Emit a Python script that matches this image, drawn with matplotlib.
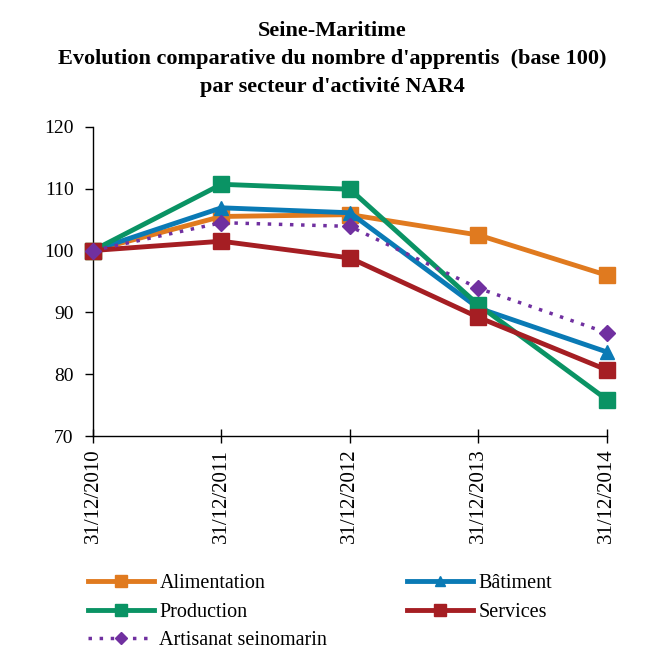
import matplotlib
matplotlib.use("Agg")
import matplotlib.pyplot as plt

dates = ["31/12/2010", "31/12/2011", "31/12/2012", "31/12/2013", "31/12/2014"]
alimentation = [100, 105.5, 105.8, 102.5, 96.0]
batiment = [100, 106.9, 106.1, 90.7, 83.6]
production = [100, 110.7, 109.9, 91.2, 75.9]
services = [100, 101.5, 98.8, 89.2, 80.7]
artisanat = [100, 104.5, 103.9, 93.9, 86.7]

plt.rcParams['font.family'] = ['Liberation Serif', 'DejaVu Serif']

fig = plt.figure(figsize=(6.64, 6.5), dpi=100)
ax = fig.add_axes([0.140, 0.329, 0.774, 0.476])

x = list(range(len(dates)))
h_al, = ax.plot(x, alimentation, color='#E07A1F', lw=3.5, marker='s', ms=11, label='Alimentation', zorder=3)
h_ba, = ax.plot(x, batiment, color='#0A7AB5', lw=3.5, marker='^', ms=10, label='Bâtiment', zorder=4)
h_pr, = ax.plot(x, production, color='#0A9364', lw=3.5, marker='s', ms=12, label='Production', zorder=5)
h_se, = ax.plot(x, services, color='#A51E23', lw=3.5, marker='s', ms=12, label='Services', zorder=6)
h_ar, = ax.plot(x, artisanat, color='#7030A0', lw=2.5, ls=(0, (1, 2.2)), marker='D', ms=8, label='Artisanat seinomarin', zorder=7)

ax.set_xlim(0, 4)
ax.set_ylim(70, 120)
ax.set_yticks([70, 80, 90, 100, 110, 120])
ax.set_xticks(x)
ax.set_xticklabels(dates, rotation=90, fontsize=15)
ax.tick_params(axis='y', labelsize=14, direction='out', length=6, width=1, pad=8)
ax.tick_params(axis='x', direction='inout', length=10, width=1, pad=4)
for s in ['top', 'right']:
    ax.spines[s].set_visible(False)
for s in ['left', 'bottom']:
    ax.spines[s].set_linewidth(1)
for c in ax.get_lines():
    c.set_clip_on(False)

fig.text(0.5, 0.968, "Seine-Maritime\nEvolution comparative du nombre d'apprentis  (base 100)\npar secteur d'activité NAR4",
         ha='center', va='top', fontsize=16, fontweight='bold', linespacing=1.55)

common = dict(frameon=False, fontsize=14.5, handlelength=3.3, handletextpad=0.25,
              labelspacing=0.47, markerscale=0.75, borderaxespad=0, borderpad=0)
leg1 = fig.legend(handles=[h_al, h_pr, h_ar], loc='upper left',
                  bbox_to_anchor=(88 / 664, 1 - 574 / 650), **common)
leg2 = fig.legend(handles=[h_ba, h_se], loc='upper left',
                  bbox_to_anchor=(407 / 664, 1 - 574 / 650), **common)

fig.savefig("out.png", dpi=100)
